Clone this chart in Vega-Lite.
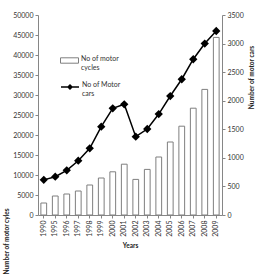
{
  "$schema": "https://vega.github.io/schema/vega-lite/v6.json",
  "autosize": "none",
  "width": 184,
  "height": 200,
  "padding": {"left": 38, "top": 15, "right": 34, "bottom": 65},
  "background": "white",
  "config": {
    "view": {"stroke": null},
    "font": "Lato",
    "axis": {"labelFont": "Lato", "titleFont": "Lato", "labelFontSize": 7, "titleFontSize": 6.5, "titleFontWeight": "bold", "labelColor": "#333333", "titleColor": "#222222", "domainColor": "#868686", "tickColor": "#868686", "grid": false, "tickSize": 3, "labelPadding": 2},
    "legend": {"labelFont": "Lato", "labelFontSize": 7, "labelColor": "#333333"}
  },
  "data": {
    "values": [
      {"Year": "1990", "cycles": 3000, "cars": 615},
      {"Year": "1995", "cycles": 4750, "cars": 670},
      {"Year": "1996", "cycles": 5250, "cars": 782},
      {"Year": "1997", "cycles": 6000, "cars": 950},
      {"Year": "1998", "cycles": 7500, "cars": 1167},
      {"Year": "1999", "cycles": 9250, "cars": 1545},
      {"Year": "2000", "cycles": 10800, "cars": 1867},
      {"Year": "2001", "cycles": 12700, "cars": 1937},
      {"Year": "2002", "cycles": 8900, "cars": 1370},
      {"Year": "2003", "cycles": 11400, "cars": 1505},
      {"Year": "2004", "cycles": 14500, "cars": 1767},
      {"Year": "2005", "cycles": 18250, "cars": 2082},
      {"Year": "2006", "cycles": 22200, "cars": 2376},
      {"Year": "2007", "cycles": 26700, "cars": 2726},
      {"Year": "2008", "cycles": 31400, "cars": 3000},
      {"Year": "2009", "cycles": 44400, "cars": 3220}
    ]
  },
  "encoding": {
    "x": {
      "field": "Year", "type": "ordinal",
      "scale": {"paddingInner": 0.5, "paddingOuter": 0.25},
      "axis": {"title": "Years", "labelAngle": -90, "titleY": 27, "titlePadding": 4}
    }
  },
  "layer": [
    {
      "transform": [{"calculate": "'No of motor cycles'", "as": "s1"}],
      "mark": {"type": "bar", "stroke": "#7f7f7f", "strokeWidth": 1},
      "encoding": {
        "y": {
          "field": "cycles", "type": "quantitative",
          "scale": {"domain": [0, 50000]},
          "axis": {"title": "Number of motor cyles", "format": "d", "values": [0,5000,10000,15000,20000,25000,30000,35000,40000,45000,50000], "titleX": -32, "titleY": 226, "titleAlign": "center", "titleBaseline": "middle"}
        },
        "fill": {
          "field": "s1", "type": "nominal",
          "scale": {"range": ["white"]},
          "legend": {"title": null, "orient": "none", "legendX": 22, "legendY": 36, "symbolType": "M-1,-0.3H1V0.3H-1Z", "symbolSize": 324, "symbolStrokeColor": "#7f7f7f", "symbolStrokeWidth": 1, "labelExpr": "['No of motor','cycles']", "labelBaseline": "alphabetic", "labelOffset": 2}
        }
      }
    },
    {
      "transform": [{"calculate": "'No of Motor cars'", "as": "s2"}],
      "mark": {"type": "line", "strokeWidth": 1.5, "point": {"shape": "diamond", "filled": true, "size": 30, "color": "black"}},
      "encoding": {
        "y": {
          "field": "cars", "type": "quantitative",
          "scale": {"domain": [0, 3500]},
          "axis": {"orient": "right", "title": "Number of motor cars", "format": "d", "values": [0,500,1000,1500,2000,2500,3000,3500], "titleX": 29, "titleY": 62, "titleAngle": -90, "titleAlign": "center", "titleBaseline": "middle"}
        },
        "stroke": {
          "field": "s2", "type": "nominal",
          "scale": {"range": ["black"]},
          "legend": {"title": null, "orient": "none", "legendX": 22, "legendY": 62, "symbolType": "M-1,0H1M-0.22,0L0,-0.22L0.22,0L0,0.22Z", "symbolSize": 324, "symbolStrokeWidth": 1.5, "symbolFillColor": "black", "labelExpr": "['No of Motor','cars']", "labelBaseline": "alphabetic", "labelOffset": 2}
        }
      }
    }
  ],
  "resolve": {"scale": {"y": "independent", "fill": "independent", "stroke": "independent"}}
}
